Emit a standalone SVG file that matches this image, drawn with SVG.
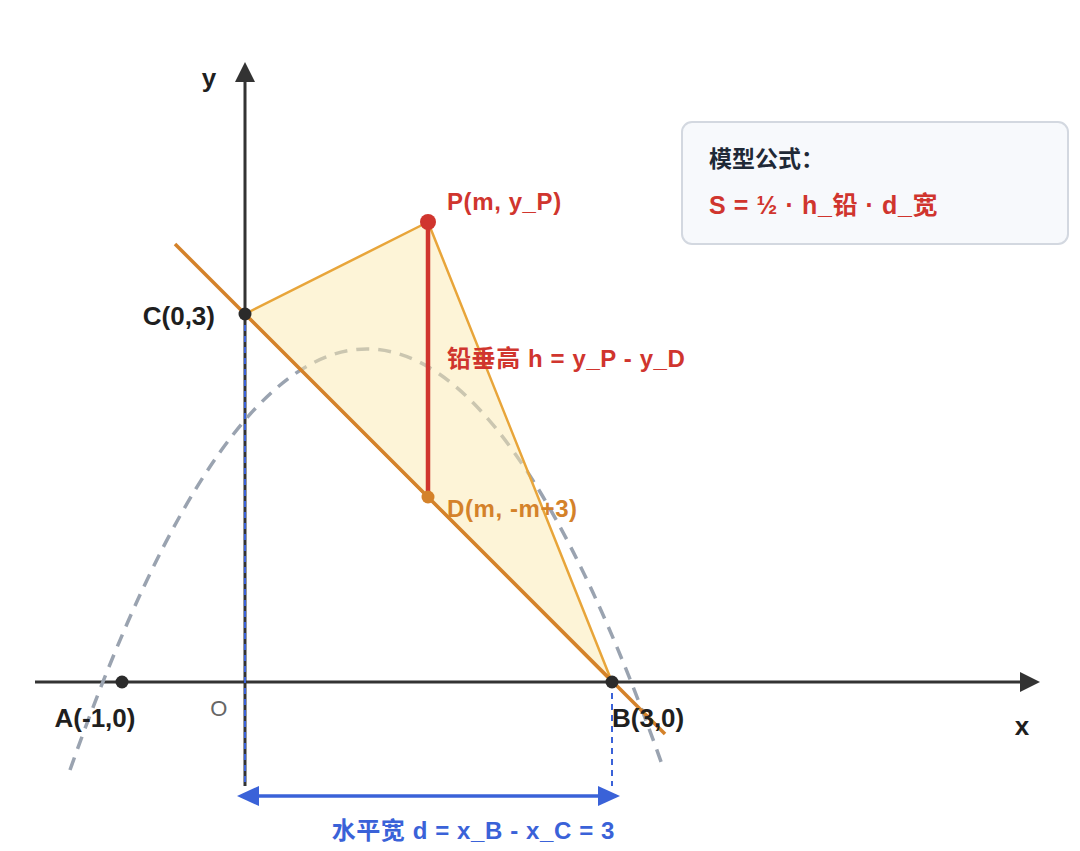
<svg xmlns="http://www.w3.org/2000/svg" width="1080" height="851" viewBox="0 0 1080 851">
  <defs>
    <style>
      text { font-family: "Liberation Sans", Inter, "Noto Sans CJK SC", sans-serif; font-weight: bold; font-size: 24px; letter-spacing: 0.6px; }
      .blk { fill: #1f1f1f; font-size: 26px; letter-spacing: 0; }
      .red { fill: #d0352e; }
      .org { fill: #d4822a; }
      .blu { fill: #3a62d8; }
      .axis { stroke: #333; stroke-width: 3; fill: none; }
    </style>
    <marker id="axArrow" viewBox="0 0 20 20" refX="2" refY="10" markerWidth="20" markerHeight="20" markerUnits="userSpaceOnUse" orient="auto">
      <path d="M0,0 L20,10 L0,20 Z" fill="#333"/>
    </marker>
    <marker id="bluArrow" viewBox="0 0 22 20" refX="4" refY="10" markerWidth="22" markerHeight="20" markerUnits="userSpaceOnUse" orient="auto-start-reverse">
      <path d="M0,0 L22,10 L0,20 Z" fill="#3a62d8"/>
    </marker>
  </defs>
  <rect width="1080" height="851" fill="#ffffff"/>

  <g id="axes">
    <line class="axis" x1="35" y1="682" x2="1022" y2="682" marker-end="url(#axArrow)"/>
    <line class="axis" x1="245" y1="786" x2="245" y2="80" marker-end="url(#axArrow)"/>
    <text x="209" y="87" class="blk" text-anchor="middle">y</text>
    <text x="1022" y="735" class="blk" text-anchor="middle">x</text>
    <text x="219" y="716" text-anchor="middle" style="font-weight:normal;fill:#666;font-size:22px">O</text>
  </g>

  <g id="parabola">
    <path d="M70,770 Q367,-72 664,770" fill="none" stroke="#9aa3b0" stroke-width="3.5" stroke-dasharray="13 9"/>
  </g>

  <g id="triangle">
    <polygon points="245,314 428,222 612,682" fill="#fbe9b0" fill-opacity="0.5" stroke="#e8a53a" stroke-width="2.5" stroke-linejoin="round"/>
  </g>

  <g id="connectors">
    <line x1="175" y1="244" x2="665" y2="734" stroke="#d4822a" stroke-width="3.5"/>
    <line x1="428" y1="222" x2="428" y2="497" stroke="#d0352e" stroke-width="4.5"/>
    <line x1="245" y1="314" x2="245" y2="786" stroke="#3a62d8" stroke-width="2" stroke-dasharray="6 5"/>
    <line x1="612" y1="682" x2="612" y2="786" stroke="#3a62d8" stroke-width="2" stroke-dasharray="6 5"/>
    <line x1="255" y1="796" x2="602" y2="796" stroke="#3a62d8" stroke-width="3.5" marker-start="url(#bluArrow)" marker-end="url(#bluArrow)"/>
  </g>

  <g id="node-A">
    <circle cx="122" cy="682" r="6.5" fill="#2b2b2b"/>
    <text x="95" y="727" class="blk" text-anchor="middle">A(-1,0)</text>
  </g>
  <g id="node-B">
    <circle cx="612" cy="682" r="6.5" fill="#2b2b2b"/>
    <text x="612" y="727" class="blk">B(3,0)</text>
  </g>
  <g id="node-C">
    <circle cx="245" cy="314" r="6.5" fill="#2b2b2b"/>
    <text x="215" y="325" class="blk" text-anchor="end">C(0,3)</text>
  </g>
  <g id="node-P">
    <circle cx="428" cy="222" r="8" fill="#d0352e"/>
    <text x="447" y="210" class="red">P(m, y_P)</text>
  </g>
  <g id="node-D">
    <circle cx="428" cy="497" r="6.5" fill="#d4822a"/>
    <text x="447" y="517" class="org">D(m, -m+3)</text>
  </g>
  <g id="label-h">
    <text x="447" y="367" class="red">铅垂高 h = y_P - y_D</text>
  </g>
  <g id="label-d">
    <text x="615" y="839" class="blu" text-anchor="end">水平宽 d = x_B - x_C = 3</text>
  </g>

  <g id="formula-box">
    <rect x="682" y="122" width="386" height="122" rx="10" fill="#f7f9fc" stroke="#d3d8e0" stroke-width="2"/>
    <text x="709" y="167" style="fill:#1f2937;font-size:23px;letter-spacing:0">模型公式：</text>
    <text x="709" y="214" class="red" style="font-size:25px">S = ½ · h_铅 · d_宽</text>
  </g>
</svg>
